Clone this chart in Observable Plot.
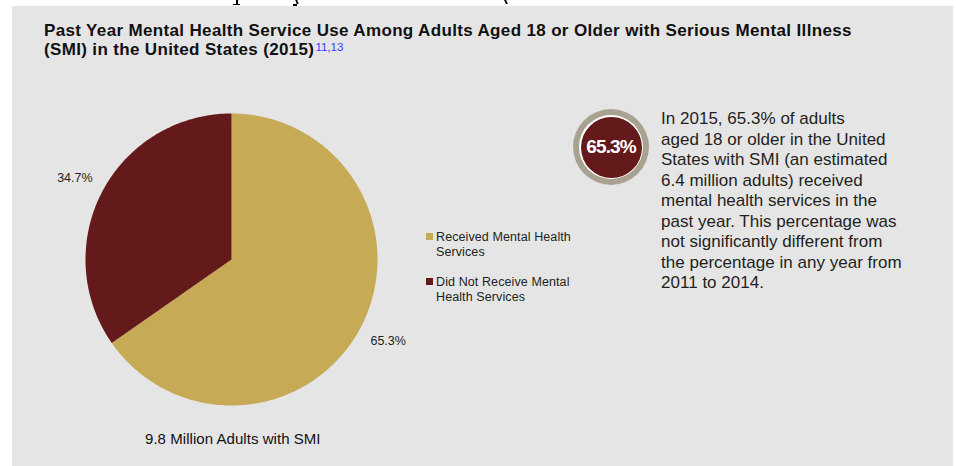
<!DOCTYPE html>
<html>
<head>
<meta charset="utf-8">
<script src="https://cdn.jsdelivr.net/npm/d3@7"></script>
<script src="https://cdn.jsdelivr.net/npm/@observablehq/plot@0.6"></script>
<style>
  html, body { margin: 0; padding: 0; background: #fff; }
  #page { position: relative; width: 956px; height: 466px; overflow: hidden; font-family: "Liberation Sans", Arial, sans-serif; color: #231f20; }
  .frag { position: absolute; background: #000; }
  #panel { position: absolute; left: 12px; top: 6px; width: 941px; height: 460px; background: #e5e5e5; }
  #title { position: absolute; left: 44px; top: 21px; font-weight: bold; font-size: 17px; line-height: 19px; color: #111; letter-spacing: 0.35px; white-space: nowrap; }
  #title .l2 { position: relative; display: inline-block; }
  #title .note { color: #3a3aff; font-weight: normal; font-size: 11.5px; letter-spacing: 0; position: relative; top: -4px; line-height: 11px; display: inline-block; margin-left: 1px; }
  #pie { position: absolute; left: 40px; top: 109px; }
  .legend-item { position: absolute; left: 426px; font-size: 12.5px; line-height: 15px; color: #231f20; }
  .legend-item .sw { position: absolute; left: 0; width: 7px; height: 7px; }
  .legend-item .lab { position: absolute; left: 10px; white-space: nowrap; letter-spacing: 0.1px; }
  #caption { position: absolute; left: 145px; top: 431px; font-size: 15px; line-height: 16px; color: #111; white-space: nowrap; letter-spacing: 0.05px; }
  #badge { position: absolute; left: 573px; top: 109px; width: 76px; height: 76px; border-radius: 50%; background: #aaa291; }
  #badge .w { position: absolute; left: 6px; top: 6px; width: 64px; height: 64px; border-radius: 50%; background: #fff; }
  #badge .r { position: absolute; left: 7.5px; top: 7.5px; width: 61px; height: 61px; border-radius: 50%; background: #64191b; }
  #badge .t { position: absolute; left: 0; top: 0; width: 76px; line-height: 76px; text-align: center; color: #fff; font-weight: bold; font-size: 19px; letter-spacing: -0.9px; }
  #para { position: absolute; left: 661px; top: 109px; font-size: 17px; line-height: 20.5px; color: #231f20; white-space: nowrap; letter-spacing: 0.02px; }
</style>
</head>
<body>
<div id="page">
  <div class="frag" style="left:236px; top:0; width:2px; height:5px;"></div>
  <div class="frag" style="left:233px; top:4px; width:7px; height:1px;"></div>
  <div class="frag" style="left:296px; top:0; width:2px; height:4px; transform: skewX(20deg);"></div>
  <div class="frag" style="left:293px; top:4px; width:4px; height:1.5px;"></div>
  <div class="frag" style="left:505px; top:0; width:1.5px; height:4px; transform: skewX(25deg);"></div>
  <div id="panel"></div>
  <div id="title"></div>
  <div id="pie"></div>
  <div id="legend"></div>
  <div id="badge"><div class="w"></div><div class="r"></div><div class="t"></div></div>
  <div id="para"></div>
  <div id="caption"></div>
</div>
<script>
// ---- data ----
const titleLines = ["Past Year Mental Health Service Use Among Adults Aged 18 or Older with Serious Mental Illness", "(SMI) in the United States (2015)"];
const titleNotes = "11,13";
const categories = ["Received Mental Health Services", "Did Not Receive Mental Health Services"];
const legendLines = [["Received Mental Health", "Services"], ["Did Not Receive Mental", "Health Services"]];
const shares = [65.3, 34.7];
const colors = ["#c6aa56", "#64191b"];
const captionText = "9.8 Million Adults with SMI";
const paragraphLines = [
  "In 2015, 65.3% of adults",
  "aged 18 or older in the United",
  "States with SMI (an estimated",
  "6.4 million adults) received",
  "mental health services in the",
  "past year. This percentage was",
  "not significantly different from",
  "the percentage in any year from",
  "2011 to 2014."
];

// ---- text blocks ----
document.getElementById("title").innerHTML = titleLines[0] + "<br>" + titleLines[1] + "<span class=\"note\">" + titleNotes + "</span>";
document.getElementById("caption").textContent = captionText;
document.getElementById("para").innerHTML = paragraphLines.join("<br>");
document.querySelector("#badge .t").textContent = shares[0].toFixed(1) + "%";

const legend = document.getElementById("legend");
legendLines.forEach((lines, i) => {
  const item = document.createElement("div");
  item.className = "legend-item";
  item.style.top = (230 + i * 45) + "px";
  item.innerHTML = `<div class="sw" style="top:3px;background:${colors[i]}"></div><div class="lab">${lines.join("<br>")}</div>`;
  legend.appendChild(item);
});

// ---- pie geometry from data ----
const arcs = d3.pie().sort(null)(shares);
const slicePts = [];
const labels = [];
arcs.forEach((a, i) => {
  const cat = categories[i];
  slicePts.push({cat, x: 0, y: 0});
  const n = Math.max(2, Math.ceil((a.endAngle - a.startAngle) / (Math.PI / 180)));
  for (let k = 0; k <= n; k++) {
    const t = a.startAngle + (a.endAngle - a.startAngle) * k / n;
    slicePts.push({cat, x: Math.sin(t), y: Math.cos(t)});
  }
  const mid = (a.startAngle + a.endAngle) / 2;
  labels.push({cat, x: 1.21 * Math.sin(mid), y: 1.21 * Math.cos(mid), text: shares[i].toFixed(1) + "%"});
});

const R = 146;
const chart = Plot.plot({
  width: 382,
  height: 300,
  margin: 0,
  style: {background: "transparent", overflow: "visible"},
  x: {domain: [-191 / R, 191 / R], axis: null},
  y: {domain: [-150 / R, 150 / R], axis: null},
  color: {domain: categories, range: colors},
  marks: [
    Plot.line(slicePts, {x: "x", y: "y", z: "cat", fill: "cat", stroke: "none", curve: "linear-closed"}),
    Plot.text(labels, {x: "x", y: "y", text: "text", fontSize: 12.5, fill: "#231f20", fontFamily: "Liberation Sans, Arial, sans-serif"})
  ]
});
document.getElementById("pie").appendChild(chart);
</script>
</body>
</html>
